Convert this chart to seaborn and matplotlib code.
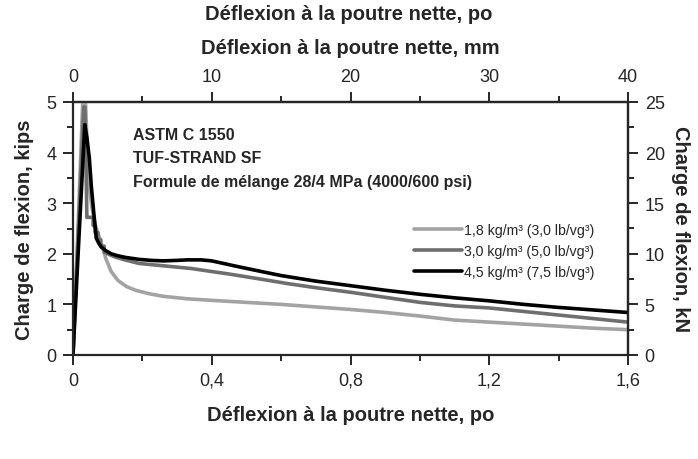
import pandas as pd
import matplotlib
matplotlib.use("Agg")
import matplotlib.pyplot as plt
import seaborn as sns

sns.set_style("ticks")
plt.rcParams['font.family'] = ['Liberation Sans', 'DejaVu Sans']

# deflection (in) / load (kips)
x_18 = [0, 0.015, 0.028, 0.032, 0.036, 0.045, 0.055, 0.065, 0.082, 0.095, 0.11, 0.13,
        0.155, 0.18, 0.22, 0.26, 0.33, 0.4, 0.5, 0.6, 0.7, 0.8, 0.9, 1.0, 1.1, 1.2,
        1.3, 1.4, 1.5, 1.6]
y_18 = [0, 2.6, 5.0, 5.3, 5.0, 3.4, 2.9, 2.55, 2.2, 1.9, 1.65, 1.47,
        1.35, 1.28, 1.21, 1.16, 1.11, 1.08, 1.04, 1.0, 0.95, 0.9, 0.84, 0.77, 0.69, 0.65,
        0.61, 0.57, 0.53, 0.5]

x_30 = [0, 0.015, 0.031, 0.034, 0.036, 0.04, 0.058, 0.058, 0.064, 0.064, 0.072, 0.072,
        0.08, 0.08, 0.09, 0.09, 0.1, 0.12, 0.15, 0.19, 0.25, 0.34, 0.45, 0.55, 0.62,
        0.7, 0.8, 0.9, 1.0, 1.1, 1.2, 1.3, 1.4, 1.5, 1.6]
y_30 = [0, 2.4, 4.9, 4.9, 4.4, 2.72, 2.72, 2.56, 2.56, 2.42, 2.42, 2.28,
        2.28, 2.15, 2.15, 2.03, 2.0, 1.94, 1.88, 1.81, 1.77, 1.71, 1.6, 1.49, 1.41,
        1.33, 1.24, 1.14, 1.04, 0.97, 0.93, 0.86, 0.79, 0.72, 0.65]

x_45 = [0, 0.017, 0.034, 0.04, 0.047, 0.053, 0.06, 0.067, 0.075, 0.082, 0.095, 0.11,
        0.13, 0.15, 0.19, 0.226, 0.26, 0.3, 0.33, 0.37, 0.4, 0.44, 0.48, 0.55, 0.6,
        0.654, 0.7, 0.8, 0.9, 1.0, 1.1, 1.2, 1.3, 1.4, 1.5, 1.6]
y_45 = [0, 2.3, 4.55, 4.3, 3.9, 3.32, 2.8, 2.31, 2.2, 2.13, 2.06, 2.0,
        1.96, 1.93, 1.89, 1.87, 1.86, 1.87, 1.88, 1.88, 1.86, 1.8, 1.74, 1.64, 1.57,
        1.51, 1.46, 1.37, 1.28, 1.2, 1.13, 1.07, 1.0, 0.94, 0.89, 0.84]

labels = ["1,8 kg/m³ (3,0 lb/vg³)", "3,0 kg/m³ (5,0 lb/vg³)", "4,5 kg/m³ (7,5 lb/vg³)"]
colors = ["#a3a3a3", "#6e6e6e", "#000000"]

x_ticks = [0, 0.4, 0.8, 1.2, 1.6]
x_ticklabels = ["0", "0,4", "0,8", "1,2", "1,6"]
mm_ticks = [0, 10, 20, 30, 40]
kip_ticks = [0, 1, 2, 3, 4, 5]
kn_ticks = [0, 5, 10, 15, 20, 25]

df = pd.concat([
    pd.DataFrame({"x": x_18, "y": y_18, "serie": labels[0]}),
    pd.DataFrame({"x": x_30, "y": y_30, "serie": labels[1]}),
    pd.DataFrame({"x": x_45, "y": y_45, "serie": labels[2]}),
])

fig = plt.figure(figsize=(6.98, 4.6), dpi=100)
ax = fig.add_axes([73 / 698, 1 - 356 / 460, 555 / 698, 253 / 460])

for lab, col in zip(labels, colors):
    sub = df[df.serie == lab]
    sns.lineplot(x=sub.x.values, y=sub.y.values, color=col, estimator=None, sort=False,
                 linewidth=2.6, ax=ax, label=lab)

ax.set_xlim(0, 1.6)
ax.set_ylim(0, 5)
ax.set_xticks(x_ticks, x_ticklabels)
ax.set_xticks([0.2, 0.6, 1.0, 1.4], minor=True)
ax.set_yticks(kip_ticks)
ax.set_yticks([0.5, 1.5, 2.5, 3.5, 4.5], minor=True)
for s in ax.spines.values():
    s.set_visible(True)
    s.set_linewidth(1.6)
ax.tick_params(which="major", length=7, width=1.4, labelsize=13, pad=5, direction="out")
ax.tick_params(which="minor", length=4, width=1.4, direction="out")
ax.tick_params(top=False, right=False)

ax.set_xlabel("Déflexion à la poutre nette, po", fontsize=14.5, fontweight="bold", labelpad=12)
ax.set_ylabel("Charge de flexion, kips", fontsize=14.5, fontweight="bold", labelpad=9)

top = ax.secondary_xaxis("top", functions=(lambda v: v * 25, lambda v: v / 25))
top.set_xticks(mm_ticks)
top.set_xticks([5, 15, 25, 35], minor=True)
top.tick_params(which="major", length=7, width=1.4, labelsize=13, pad=5)
top.tick_params(which="minor", length=4, width=1.4)
top.spines["top"].set_linewidth(1.6)
top.set_xlabel("Déflexion à la poutre nette, mm", fontsize=14.5, fontweight="bold", labelpad=11)

right = ax.secondary_yaxis("right", functions=(lambda v: v * 5, lambda v: v / 5))
right.set_yticks(kn_ticks)
right.set_yticks([2.5, 7.5, 12.5, 17.5, 22.5], minor=True)
right.tick_params(which="major", length=7, width=1.4, labelsize=13, pad=5)
right.tick_params(which="minor", length=4, width=1.4)
right.spines["right"].set_linewidth(1.6)
right.set_ylabel("Charge de flexion, kN", fontsize=14.5, fontweight="bold", rotation=270, labelpad=18)

fig.text(349 / 698, 1 - 14 / 460, "Déflexion à la poutre nette, po", fontsize=14.5,
         fontweight="bold", ha="center", va="center")

ax.text(0.108, 0.9, "ASTM C 1550\nTUF-STRAND SF\nFormule de mélange 28/4 MPa (4000/600 psi)",
        transform=ax.transAxes, fontsize=11.5, fontweight="bold", va="top", ha="left",
        linespacing=1.68)

ax.legend(loc="upper right", bbox_to_anchor=(0.95, 0.545), frameon=False, fontsize=10.2,
          handlelength=3.4, handletextpad=0.15, labelspacing=0.5, borderaxespad=0)

fig.savefig("out.png", dpi=100)
